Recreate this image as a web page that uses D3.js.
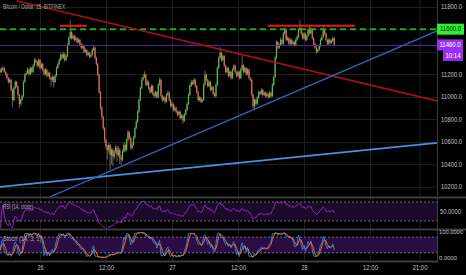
<!DOCTYPE html>
<html>
<head>
<meta charset="utf-8">
<script src="https://cdn.jsdelivr.net/npm/d3@7"></script>
<style>
body { margin: 0; background: #000; }
svg { display: block; }
text { font-family: "Liberation Sans", "DejaVu Sans", sans-serif; }
</style>
</head>
<body>
<div id="chart"></div>
<script>
var svgWidth = 466, svgHeight = 275;
var plotRight = 437;
var mainTop = 0, mainBottom = 197;
var rsiTop = 198, rsiBottom = 228;
var stTop = 230, stBottom = 260;

// ---- data (15 min bars, time = hours from the 26th 00:00) ----
var firstBarHour = -7.25;
var barHours = 0.25;
var firstOpen = 11240;
var closes = [
  11220, 11240, 11255, 11220, 11200, 11165, 11130, 11150, 11060, 10970,
  11075, 11130, 11095, 11015, 10935, 10970, 11005, 11130, 11195, 11210,
  11240, 11200, 11255, 11220, 11275, 11325, 11310, 11275, 11325, 11255,
  11290, 11240, 11200, 11240, 11185, 11210, 11165, 11150, 11175, 11130,
  11185, 11255, 11290, 11325, 11370, 11345, 11380, 11325, 11360, 11460,
  11520, 11575, 11520, 11540, 11505, 11520, 11485, 11505, 11470, 11435,
  11450, 11400, 11415, 11370, 11390, 11355, 11370, 11415, 11435, 11345,
  11290, 11195, 11040, 10900, 10820, 10720, 10615, 10555, 10525, 10570,
  10480, 10525, 10465, 10510, 10545, 10480, 10525, 10455, 10440, 10510,
  10570, 10525, 10615, 10685, 10635, 10545, 10570, 10635, 10720, 10775,
  10865, 10970, 11075, 11150, 11175, 11195, 11105, 11130, 11075, 11040,
  11095, 11025, 11005, 11040, 10995, 11105, 11150, 11005, 10970, 10990,
  10955, 11015, 11035, 10970, 10915, 10935, 10880, 10900, 10865, 10840,
  10865, 10810, 10830, 10785, 10840, 10880, 10935, 11015, 11095, 11130,
  11115, 11150, 11095, 11040, 10970, 10990, 10955, 10970, 11105, 11195,
  11150, 11095, 11130, 11060, 11085, 11025, 11005, 11105, 11255, 11345,
  11390, 11325, 11360, 11275, 11220, 11255, 11185, 11220, 11165, 11240,
  11275, 11220, 11185, 11220, 11165, 11240, 11280, 11220, 11255, 11200,
  11240, 11165, 11150, 11015, 10915, 10970, 10935, 10990, 11040, 11025,
  11060, 11015, 11035, 11005, 11025, 10995, 11035, 11005, 11105, 11175,
  11345, 11485, 11435, 11460, 11505, 11470, 11560, 11595, 11505, 11520,
  11470, 11505, 11470, 11485, 11460, 11505, 11530, 11595, 11610, 11560,
  11520, 11560, 11505, 11540, 11595, 11565, 11600, 11520, 11470, 11440,
  11400, 11415, 11450, 11505, 11530, 11595, 11560, 11505, 11470, 11505,
  11480, 11495, 11520, 11460
];
var highs = [
  11255, 11260, 11275, 11265, 11230, 11210, 11175, 11165, 11155, 11070,
  11090, 11145, 11140, 11100, 11025, 10985, 11020, 11145, 11210, 11230,
  11260, 11250, 11270, 11265, 11290, 11345, 11340, 11320, 11340, 11335,
  11305, 11300, 11250, 11255, 11250, 11225, 11220, 11180, 11190, 11185,
  11200, 11270, 11310, 11345, 11390, 11385, 11400, 11390, 11375, 11475,
  11540, 11680, 11590, 11560, 11550, 11540, 11530, 11520, 11515, 11480,
  11465, 11460, 11430, 11425, 11405, 11400, 11385, 11430, 11455, 11445,
  11355, 11300, 11205, 11050, 10915, 10830, 10730, 10625, 10570, 10590,
  10580, 10545, 10540, 10530, 10570, 10560, 10560, 10540, 10480, 10530,
  10595, 10585, 10630, 10705, 10695, 10645, 10590, 10650, 10735, 10795,
  10880, 10985, 11090, 11170, 11200, 11225, 11205, 11150, 11140, 11085,
  11110, 11105, 11040, 11055, 11050, 11120, 11170, 11160, 11015, 11010,
  11000, 11030, 11055, 11045, 10980, 10955, 10945, 10920, 10910, 10875,
  10880, 10875, 10845, 10840, 10855, 10895, 10950, 11030, 11110, 11150,
  11145, 11165, 11160, 11105, 11050, 11005, 11000, 10985, 11120, 11235,
  11210, 11160, 11145, 11140, 11100, 11095, 11040, 11120, 11270, 11360,
  11440, 11400, 11375, 11370, 11285, 11270, 11265, 11235, 11230, 11255,
  11290, 11285, 11230, 11235, 11230, 11260, 11370, 11290, 11270, 11265,
  11255, 11250, 11175, 11160, 11025, 10985, 10980, 11005, 11055, 11050,
  11075, 11070, 11050, 11045, 11040, 11035, 11050, 11045, 11120, 11190,
  11360, 11500, 11495, 11475, 11525, 11515, 11575, 11615, 11605, 11540,
  11530, 11520, 11515, 11500, 11495, 11520, 11550, 11610, 11680, 11620,
  11570, 11575, 11570, 11555, 11615, 11635, 11615, 11610, 11530, 11480,
  11450, 11430, 11465, 11520, 11550, 11640, 11605, 11570, 11515, 11520,
  11515, 11510, 11535, 11530
];
var lows = [
  11205, 11210, 11230, 11210, 11185, 11150, 11115, 11120, 11045, 10905,
  10955, 11065, 11080, 11000, 10900, 10920, 10960, 10995, 11120, 11185,
  11200, 11185, 11190, 11205, 11210, 11265, 11295, 11260, 11265, 11240,
  11245, 11225, 11185, 11190, 11170, 11175, 11150, 11090, 11130, 11080,
  11120, 11175, 11245, 11280, 11315, 11330, 11335, 11310, 11315, 11350,
  11450, 11510, 11505, 11510, 11490, 11495, 11470, 11475, 11455, 11420,
  11425, 11385, 11390, 11355, 11360, 11340, 11345, 11360, 11405, 11330,
  11275, 11180, 11025, 10885, 10800, 10700, 10590, 10530, 10440, 10500,
  10350, 10400, 10380, 10440, 10495, 10420, 10465, 10400, 10395, 10425,
  10500, 10505, 10515, 10600, 10620, 10525, 10530, 10560, 10625, 10710,
  10765, 10855, 10960, 11065, 11140, 11165, 11090, 11095, 11060, 11025,
  11030, 11010, 10985, 10995, 10980, 10985, 11095, 10990, 10950, 10960,
  10935, 10945, 11005, 10955, 10900, 10905, 10865, 10870, 10850, 10825,
  10830, 10795, 10800, 10760, 10775, 10830, 10870, 10925, 11005, 11085,
  11100, 11105, 11080, 11025, 10955, 10955, 10940, 10945, 10960, 11095,
  11135, 11080, 11085, 11045, 11050, 11010, 10990, 10995, 11095, 11245,
  11335, 11310, 11315, 11260, 11205, 11210, 11170, 11175, 11150, 11155,
  11230, 11205, 11170, 11175, 11150, 11155, 11230, 11205, 11210, 11185,
  11190, 11150, 11135, 11000, 10895, 10880, 10920, 10925, 10980, 11010,
  11015, 11000, 11005, 10990, 10995, 10980, 10985, 10990, 10995, 11095,
  11165, 11335, 11420, 11425, 11450, 11455, 11460, 11550, 11490, 11495,
  11455, 11460, 11455, 11460, 11445, 11450, 11495, 11520, 11585, 11545,
  11505, 11510, 11490, 11495, 11530, 11550, 11555, 11505, 11455, 11425,
  11380, 11390, 11405, 11440, 11495, 11520, 11545, 11490, 11455, 11460,
  11465, 11470, 11485, 11445
];

var timeTicks = [0, 12, 24, 36, 48, 60, 69];
var timeLabels = ["26", "12:00", "27", "12:00", "28", "12:00", "21:00"];
var priceTicks = [11800, 11600, 11400, 11200, 11000, 10800, 10600, 10400, 10200];

// drawings: [hour, price] end points
var resistanceLine = [[-4.18, 11851], [72.18, 10962]];
var steepSupport = [[1.82, 10108], [72.18, 11584]];
var flatSupport = [[-7.27, 10197], [72.18, 10589]];
var topLineLeft = [[3.64, 11630], [8.55, 11630]];
var topLineRight = [[41.45, 11630], [57.27, 11630]];
var levelPrice = 11600;
var lastPrice = 11460;
var barCountdown = "10:14";

var rsiLevels = [70, 30];
var stochLevels = [80, 20];

// ---- svg ----
var svg = d3.select("#chart").append("svg")
    .attr("width", svgWidth)
    .attr("height", svgHeight);

svg.append("rect").attr("width", svgWidth).attr("height", svgHeight).attr("fill", "#000");

var xScale = d3.scaleLinear().domain([-7.27, 72.18]).range([0, plotRight]);
var yScale = d3.scaleLinear().domain([10106.7, 11859.6]).range([mainBottom, mainTop]);
var rsiScale = d3.scaleLinear().domain([15.3, 78.4]).range([rsiBottom, rsiTop]);
var stScale = d3.scaleLinear().domain([0, 100]).range([258, 232]);

// the chart font is a narrow one: squeeze each text to about this many px per character
function squeeze(sel, pxPerChar) {
    sel.each(function() {
        var t = d3.select(this);
        t.attr("textLength", t.text().length * pxPerChar).attr("lengthAdjust", "spacingAndGlyphs");
    });
}

var defs = svg.append("defs");
defs.append("clipPath").attr("id", "clipMain").append("rect")
    .attr("x", 0).attr("y", mainTop).attr("width", plotRight).attr("height", mainBottom - mainTop);
defs.append("clipPath").attr("id", "clipRsi").append("rect")
    .attr("x", 0).attr("y", rsiTop).attr("width", plotRight).attr("height", rsiBottom - rsiTop);
defs.append("clipPath").attr("id", "clipSt").append("rect")
    .attr("x", 0).attr("y", stTop).attr("width", plotRight).attr("height", stBottom - stTop);

// grid
svg.append("g").selectAll("line").data(timeTicks).enter().append("line")
    .attr("x1", d => xScale(d) + 0.5).attr("x2", d => xScale(d) + 0.5)
    .attr("y1", 0).attr("y2", 261)
    .attr("stroke", "#1e1e1e");
svg.append("g").selectAll("line").data(priceTicks).enter().append("line")
    .attr("x1", 0).attr("x2", plotRight)
    .attr("y1", d => Math.round(yScale(d)) + 0.5).attr("y2", d => Math.round(yScale(d)) + 0.5)
    .attr("stroke", "#1e1e1e");

// indicator panels background bands
svg.append("rect")
    .attr("x", 0).attr("width", plotRight)
    .attr("y", rsiScale(rsiLevels[0])).attr("height", rsiScale(rsiLevels[1]) - rsiScale(rsiLevels[0]))
    .attr("fill", "#1c0a2b");
svg.append("rect")
    .attr("x", 0).attr("width", plotRight)
    .attr("y", stScale(stochLevels[0])).attr("height", stScale(stochLevels[1]) - stScale(stochLevels[0]))
    .attr("fill", "#2a0d44");

svg.append("g").selectAll("line").data(rsiLevels).enter().append("line")
    .attr("x1", 0).attr("x2", plotRight)
    .attr("y1", d => rsiScale(d)).attr("y2", d => rsiScale(d))
    .attr("stroke", "#8a8a8a").attr("stroke-width", 0.8).attr("stroke-dasharray", "2,2");
svg.append("g").selectAll("line").data(stochLevels).enter().append("line")
    .attr("x1", 0).attr("x2", plotRight)
    .attr("y1", d => stScale(d)).attr("y2", d => stScale(d))
    .attr("stroke", "#8a8a8a").attr("stroke-width", 0.8).attr("stroke-dasharray", "2,2");

// candles
var candles = closes.map(function(c, i) {
    return {
        t: firstBarHour + i * barHours,
        o: i ? closes[i - 1] : firstOpen,
        h: highs[i], l: lows[i], c: c
    };
});

var main = svg.append("g").attr("clip-path", "url(#clipMain)");

main.append("g").selectAll("line").data(candles).enter().append("line")
    .attr("x1", d => xScale(d.t)).attr("x2", d => xScale(d.t))
    .attr("y1", d => yScale(d.h)).attr("y2", d => yScale(d.l))
    .attr("stroke", "#8c8c8c").attr("stroke-width", 0.7);

main.append("g").selectAll("rect").data(candles).enter().append("rect")
    .attr("x", d => xScale(d.t) - 0.6)
    .attr("width", 1.2)
    .attr("y", d => yScale(Math.max(d.o, d.c)))
    .attr("height", d => Math.max(0.8, Math.abs(yScale(d.o) - yScale(d.c))))
    .attr("fill", d => d.c >= d.o ? "#4fc83a" : "#f0694a");

// drawings
var line = d3.line().x(d => xScale(d[0])).y(d => yScale(d[1]));

main.append("line")
    .attr("x1", 0).attr("x2", plotRight)
    .attr("y1", yScale(lastPrice) + 0.5).attr("y2", yScale(lastPrice) + 0.5)
    .attr("stroke", "#6a1fa8").attr("stroke-width", 1);

main.append("line")
    .attr("x1", 0).attr("x2", plotRight)
    .attr("y1", yScale(levelPrice)).attr("y2", yScale(levelPrice))
    .attr("stroke", "#17b017").attr("stroke-width", 2).attr("stroke-dasharray", "6,4");

main.append("path").datum(resistanceLine).attr("d", line)
    .attr("fill", "none").attr("stroke", "#a8101a").attr("stroke-width", 1.6);
main.append("path").datum(flatSupport).attr("d", line)
    .attr("fill", "none").attr("stroke", "#4a8fe6").attr("stroke-width", 1.8);
main.append("path").datum(steepSupport).attr("d", line)
    .attr("fill", "none").attr("stroke", "#2f62b4").attr("stroke-width", 1.4);
[topLineLeft, topLineRight].forEach(function(seg) {
    main.append("path").datum(seg).attr("d", line)
        .attr("fill", "none").attr("stroke", "#f01515").attr("stroke-width", 2);
});

// RSI (14, close)
function calcRsi(values, n) {
    var out = [], ag = 0, al = 0;
    for (var i = 0; i < values.length; i++) {
        var prev = i ? values[i - 1] : firstOpen;
        var d = values[i] - prev;
        var g = Math.max(d, 0), l = Math.max(-d, 0);
        var k = Math.min(i + 1, n);
        ag = (ag * (k - 1) + g) / k;
        al = (al * (k - 1) + l) / k;
        out.push(al === 0 ? 100 : 100 - 100 / (1 + ag / al));
    }
    return out;
}
// Stoch: %K over 14 bars, %D = 3 bar average
function calcStoch(n) {
    var k = closes.map(function(c, i) {
        var s = Math.max(0, i - n + 1);
        var hh = d3.max(highs.slice(s, i + 1)), ll = d3.min(lows.slice(s, i + 1));
        return hh === ll ? 50 : 100 * (c - ll) / (hh - ll);
    });
    var d = k.map(function(v, i) {
        return d3.mean(k.slice(Math.max(0, i - 2), i + 1));
    });
    return { k: k, d: d };
}

var rsiVals = calcRsi(closes, 14);
var st = calcStoch(14);

var rsiLine = d3.line().x((d, i) => xScale(candles[i].t)).y(d => rsiScale(d));
svg.append("g").attr("clip-path", "url(#clipRsi)").append("path")
    .datum(rsiVals).attr("d", rsiLine)
    .attr("fill", "none").attr("stroke", "#9128b8").attr("stroke-width", 1);

var stLine = d3.line().x((d, i) => xScale(candles[i].t)).y(d => stScale(d));
var stG = svg.append("g").attr("clip-path", "url(#clipSt)");
stG.append("path").datum(st.k).attr("d", stLine)
    .attr("fill", "none").attr("stroke", "#2a7de0").attr("stroke-width", 1);
stG.append("path").datum(st.d).attr("d", stLine)
    .attr("fill", "none").attr("stroke", "#f07020").attr("stroke-width", 1);

// separators and axis border
[197.5, 229.5].forEach(function(y) {
    svg.append("line").attr("x1", 0).attr("x2", svgWidth).attr("y1", y).attr("y2", y)
        .attr("stroke", "#3c3c3c").attr("stroke-width", 2);
});
svg.append("line").attr("x1", 0).attr("x2", plotRight + 1).attr("y1", 261.5).attr("y2", 261.5)
    .attr("stroke", "#3c3c3c").attr("stroke-width", 2);
svg.append("line").attr("x1", plotRight + 0.5).attr("x2", plotRight + 0.5).attr("y1", 0).attr("y2", 262)
    .attr("stroke", "#3c3c3c").attr("stroke-width", 1);

// axes
function styleAxis(g, anchor, size) {
    g.select(".domain").remove();
    g.selectAll(".tick line").remove();
    g.selectAll("text")
        .attr("fill", "#c4c4c4")
        .attr("font-size", size + "px")
        .attr("font-family", "Liberation Sans, DejaVu Sans, sans-serif")
        .style("text-anchor", anchor)
        .call(squeeze, 3.0);
}

// 11600 and 11400 sit under the price tags
var shownPriceTicks = priceTicks.filter(d => d !== levelPrice && Math.abs(yScale(d) - yScale(lastPrice)) > 8);
var yAxis = d3.axisRight(yScale).tickValues(shownPriceTicks).tickFormat(d3.format(".1f")).tickSize(0).tickPadding(4);
svg.append("g").attr("transform", `translate(${plotRight}, 0)`).call(yAxis).call(styleAxis, "start", 6.6);

var rsiAxis = d3.axisRight(rsiScale).tickValues([50]).tickFormat(d3.format(".4f")).tickSize(0).tickPadding(3);
svg.append("g").attr("transform", `translate(${plotRight}, 0)`).call(rsiAxis).call(styleAxis, "start", 6.6);

var stAxis = d3.axisRight(stScale).tickValues([100, 0]).tickFormat(d3.format(".4f")).tickSize(0).tickPadding(2);
svg.append("g").attr("transform", `translate(${plotRight}, 0)`).call(stAxis).call(styleAxis, "start", 6.2);

var xAxis = d3.axisBottom(xScale).tickValues(timeTicks).tickFormat((d, i) => timeLabels[i]).tickSize(0).tickPadding(3);
svg.append("g").attr("transform", "translate(0, 262)").call(xAxis).call(styleAxis, "middle", 7);

// price labels on the right axis
function priceTag(y, x, w, bg, fg, label) {
    svg.append("rect").attr("x", x).attr("y", y - 5.5).attr("width", w).attr("height", 11)
        .attr("fill", bg);
    svg.append("text").attr("x", x + w / 2).attr("y", y).attr("dy", "0.35em")
        .attr("text-anchor", "middle").attr("font-size", "6.6px").attr("fill", fg).text(label)
        .call(squeeze, 3.0);
}
priceTag(yScale(levelPrice), plotRight, 27, "#2ef02e", "#111", d3.format(".1f")(levelPrice));
priceTag(yScale(lastPrice), plotRight, 26, "#9a2ef0", "#fff", d3.format(".1f")(lastPrice));
priceTag(yScale(lastPrice) + 10.5, plotRight + 6, 20, "#9a2ef0", "#fff", barCountdown);

// titles
svg.append("text").attr("x", 3).attr("y", 9).attr("font-size", "6.5px").attr("fill", "#a8a8a8")
    .text("Bitcoin / Dollar, 15, BITFINEX").call(squeeze, 2.07);
svg.append("text").attr("x", 3).attr("y", 209).attr("font-size", "6.5px").attr("fill", "#a8a8a8")
    .text("RSI (14, close)").call(squeeze, 2.0);
svg.append("text").attr("x", 3).attr("y", 241).attr("font-size", "6.5px").attr("fill", "#a8a8a8")
    .text("Stoch (14, 3, 1)").call(squeeze, 2.4);
</script>
</body>
</html>
